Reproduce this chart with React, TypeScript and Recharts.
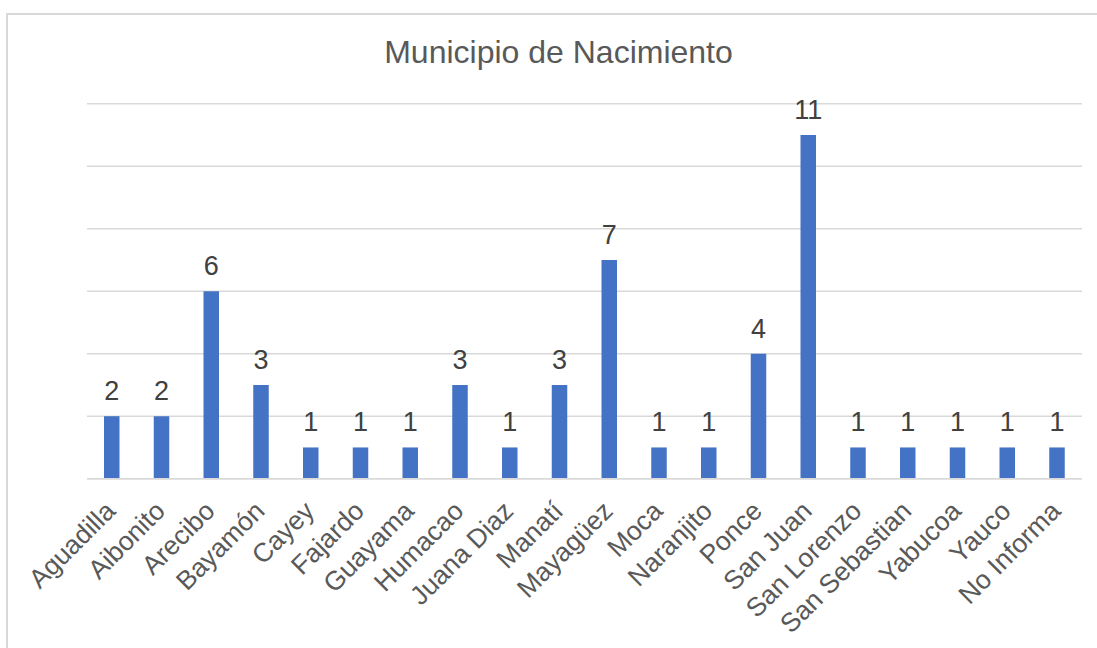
import { Bar, BarChart, CartesianGrid, LabelList, XAxis, YAxis } from "recharts";

const municipios = [
  "Aguadilla",
  "Aibonito",
  "Arecibo",
  "Bayamón",
  "Cayey",
  "Fajardo",
  "Guayama",
  "Humacao",
  "Juana Diaz",
  "Manatí",
  "Mayagüez",
  "Moca",
  "Naranjito",
  "Ponce",
  "San Juan",
  "San Lorenzo",
  "San Sebastian",
  "Yabucoa",
  "Yauco",
  "No Informa",
];
const cantidades = [2, 2, 6, 3, 1, 1, 1, 3, 1, 3, 7, 1, 1, 4, 11, 1, 1, 1, 1, 1];
const yTicks = [0, 2, 4, 6, 8, 10, 12];

const data = municipios.map((m, i) => ({ municipio: m, cantidad: cantidades[i] }));

const FONT = "'Liberation Sans', Arial, sans-serif";

// eslint-disable-next-line @typescript-eslint/no-explicit-any
function AngledTick(props: any) {
  const { x, y, payload } = props;
  const tx = x + 5;
  const ty = y + 34;
  return (
    <text
      x={tx}
      y={ty}
      transform={`rotate(-45, ${tx}, ${ty})`}
      textAnchor="end"
      fill="#595959"
      fontSize={26.5}
      fontFamily={FONT}
    >
      {payload.value}
    </text>
  );
}

export default function App() {
  return (
    <div style={{ position: "absolute", left: 0, top: 0, width: 1097, height: 648, background: "#fff", overflow: "hidden" }}>
      <div
        style={{
          position: "absolute",
          left: 6,
          top: 13,
          width: 1110,
          height: 700,
          border: "2px solid #d9d9d9",
          boxSizing: "border-box",
        }}
      />
      <svg width={1097} height={80} style={{ position: "absolute", left: 0, top: 0 }}>
        <text x={558.5} y={63.3} textAnchor="middle" fill="#595959" fontSize={32} fontFamily={FONT}>
          Municipio de Nacimiento
        </text>
      </svg>
      <div style={{ position: "absolute", left: 0, top: 0 }}>
        <BarChart
          width={1097}
          height={648}
          data={data}
          margin={{ top: 103.7, right: 15, left: 87, bottom: 0 }}
          barCategoryGap={0}
        >
          <CartesianGrid vertical={false} stroke="#d9d9d9" strokeWidth={1.5} />
          <YAxis hide type="number" domain={[0, 12]} ticks={yTicks} width={0} />
          <XAxis
            dataKey="municipio"
            interval={0}
            height={169.3}
            tickLine={false}
            tickSize={0}
            tickMargin={0}
            axisLine={{ stroke: "#d9d9d9", strokeWidth: 1.5 }}
            tick={<AngledTick />}
          />
          <Bar dataKey="cantidad" fill="#4472C4" barSize={15.5} isAnimationActive={false}>
            <LabelList
              dataKey="cantidad"
              position="top"
              offset={16}
              fill="#404040"
              fontSize={27}
              fontFamily={FONT}
            />
          </Bar>
        </BarChart>
      </div>
    </div>
  );
}
